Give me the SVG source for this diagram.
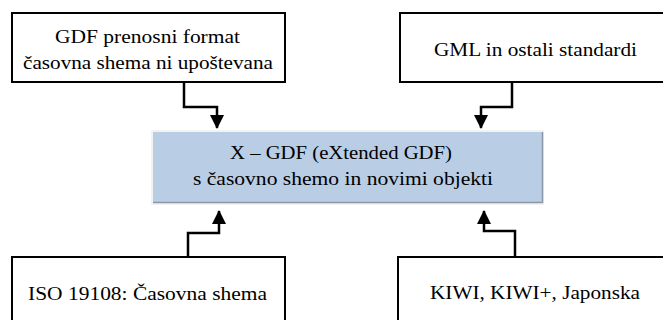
<svg xmlns="http://www.w3.org/2000/svg" width="663" height="320" viewBox="0 0 663 320">
<defs>
<style>
.box{fill:#fff;stroke:#000;stroke-width:2}
.t{font-size:19px;fill:#000;text-anchor:middle}
.c{fill:none;stroke:#000;stroke-width:2.5}
</style>
<marker id="ah" viewBox="0 0 14 14" markerWidth="14" markerHeight="14" refX="13" refY="7" orient="auto" markerUnits="userSpaceOnUse">
<path d="M0,0 L14,7 L0,14 Z" fill="#000"/>
</marker>
</defs>
<rect width="663" height="320" fill="#fff"/>
<g font-family="Liberation Serif, Times New Roman, serif">
<g id="n1"><rect class="box" x="12" y="13" width="273" height="69"/>
<text class="t" x="147.5" y="43" textLength="185" lengthAdjust="spacingAndGlyphs">GDF prenosni format</text>
<text class="t" x="148" y="69" textLength="250" lengthAdjust="spacingAndGlyphs">časovna shema ni upoštevana</text></g>
<g id="n2"><rect class="box" x="400" y="13" width="270" height="69"/>
<text class="t" x="535.5" y="56" textLength="203" lengthAdjust="spacingAndGlyphs">GML in ostali standardi</text></g>
<g id="n3"><rect x="151" y="130" width="393" height="75" fill="#f2f2f2"/>
<rect x="153" y="132" width="389" height="71" fill="#b9cde5"/>
<path d="M153,202.5 H542.5 V132" fill="none" stroke="#8c96a8" stroke-width="1.5"/>
<text class="t" x="341" y="159" textLength="222" lengthAdjust="spacingAndGlyphs">X – GDF (eXtended GDF)</text>
<text class="t" x="343" y="185" textLength="300" lengthAdjust="spacingAndGlyphs">s časovno shemo in novimi objekti</text></g>
<g id="n4"><rect class="box" x="12" y="257" width="273" height="80"/>
<text class="t" x="147.5" y="300" textLength="239" lengthAdjust="spacingAndGlyphs">ISO 19108: Časovna shema</text></g>
<g id="n5"><rect class="box" x="398" y="257" width="272" height="80"/>
<text class="t" x="535" y="299" textLength="210" lengthAdjust="spacingAndGlyphs">KIWI, KIWI+, Japonska</text></g>
</g>
<g id="connectors">
<polyline class="c" points="184,82 184,107 217,107 217,128" marker-end="url(#ah)"/>
<polyline class="c" points="512,82 512,107 481,107 481,128" marker-end="url(#ah)"/>
<polyline class="c" points="188,257 188,233 219,233 219,211" marker-end="url(#ah)"/>
<polyline class="c" points="515,257 515,231 484,231 484,211" marker-end="url(#ah)"/>
</g>
</svg>
